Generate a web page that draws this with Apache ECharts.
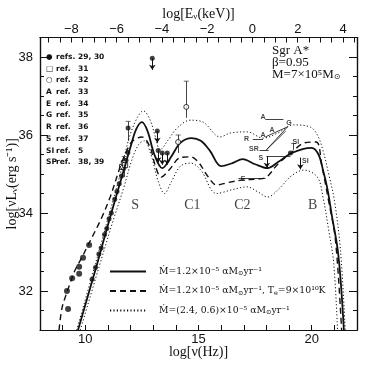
<!DOCTYPE html>
<html><head><meta charset="utf-8">
<script src="https://cdn.jsdelivr.net/npm/echarts@6/dist/echarts.min.js"></script>
<style>html,body{margin:0;padding:0;background:#fff}#c{width:384px;height:365px}</style>
</head><body><div id="c"></div>
<script>
// ---- axes ----
const xMin = 8, xMax = 22, yMin = 31, yMax = 38.5;
const keVOffset = 17.383; // log nu(Hz) - log E(keV)
const bottomTickLabels = [10, 15, 20];
const leftTickLabels = [32, 34, 36, 38];
const topTickLabels = [-8, -6, -4, -2, 0, 2, 4];

// ---- model curves: log nu, log nuL_nu ----
const solidNu = [9.68,10.5,11.1,11.6,12.0,12.25,12.5,12.75,13.05,13.4,13.8,14.2,14.7,15.1,15.5,16.0,16.5,16.95,17.5,18.05,18.5,19.05,19.6,20.0,20.3,20.5,20.7,20.9,21.15,21.3,21.42];
const solidL  = [31.0,32.65,33.9,34.9,35.7,36.15,36.33,36.1,35.5,35.15,35.45,35.8,35.92,35.85,35.6,35.2,35.28,35.38,35.25,35.15,35.3,35.52,35.64,35.67,35.5,35.1,34.6,33.9,33.05,32.1,31.0];

const dashNu = [8.84,8.97,9.15,9.33,9.55,9.86,10.08,10.3,10.7,11.1,11.54,11.85,12.1,12.5,12.85,13.1,13.35,13.7,14.2,14.65,15.0,15.4,15.8,16.3,17.0,17.6,18.0,18.5,19.1,19.7,20.2,20.45,20.75,21.05,21.32];
const dashL  = [31.0,31.56,31.9,32.2,32.54,32.87,33.13,33.38,33.85,34.41,35.18,35.62,35.85,35.95,35.7,35.2,34.92,35.1,35.42,35.44,35.3,34.95,34.72,34.78,34.85,34.87,34.92,35.25,35.55,35.8,35.82,35.2,34.3,33.3,31.0];

const dotHiNu = [9.62,10.4,11.0,11.5,11.95,12.3,12.56,12.85,13.1,13.3,13.66,14.06,14.64,15.2,15.96,16.4,17.16,17.85,18.5,19.2,19.95,20.25,20.5,20.75,21.0,21.27,21.48];
const dotHiL  = [31.0,32.6,33.85,34.9,35.95,36.45,36.62,36.4,35.95,35.62,35.87,36.18,36.38,36.33,35.95,36.05,36.08,35.92,36.05,36.26,36.2,36.0,35.6,35.0,34.33,33.05,31.0];

const dotLoNu = [9.78,10.6,11.2,11.7,12.05,12.35,12.6,12.9,13.2,13.5,13.8,14.2,14.65,15.1,15.8,16.5,17.15,17.6,18.05,18.6,19.1,19.65,20.25,20.5,20.75,20.97,21.14];
const dotLoL  = [31.0,32.6,33.75,34.65,35.35,35.75,35.85,35.5,34.85,34.5,34.8,35.2,35.28,35.1,34.5,34.6,34.67,34.55,34.41,34.65,34.95,35.1,34.92,34.4,33.56,32.72,31.0];

// ---- observations ----
const radioNu = [9.19,9.24,9.42,9.73,9.73,9.9,10.17];
const radioL  = [32.0,31.54,32.33,32.44,32.62,32.85,33.18];
const riseNu = [10.3,10.45,10.6,10.7,10.85,10.95,11.05,11.15,11.3,11.4,11.5,11.6,11.7,11.8,11.88];
const riseL  = [32.3,32.6,32.95,33.1,33.45,33.6,33.85,34.0,34.35,34.55,34.75,34.95,35.15,35.35,35.55];
const dotNu = [11.89,12.96,13.18,13.22,13.4,13.62,19.06];
const dotL  = [36.18,37.97,36.1,35.6,35.54,35.54,35.54];
const squareNu = [11.62,11.7,11.76];
const squareL  = [35.18,35.28,35.23];
const circleNu = [14.46,14.1];
const circleL  = [36.72,35.82];
const errNu = [11.89,11.72,14.46,14.1,19.2];
const errLo = [35.85,34.92,36.44,35.54,35.62];
const errHi = [36.35,35.45,37.38,36.0,35.78];
const limNu = [12.96,13.18,13.22,13.4,13.62,18.02,19.5];
const limL  = [37.97,36.1,35.6,35.54,35.54,35.46,35.42];
// x-ray / IR segments
const segStart = [[17.95,36.4],[17.4,35.9],[18.0,35.62],[18.0,35.62],[17.95,35.95],[18.0,35.46],[16.76,34.88],[17.7,35.62]];
const segEnd   = [[18.75,36.4],[17.85,35.9],[18.95,36.22],[18.85,36.1],[18.9,36.2],[19.06,35.46],[17.96,34.88],[18.1,35.62]];
const tagText = ['A','G','R','A','A','SR','S','SI','SI','E'];
const tagNu   = [17.85,19.0,17.12,17.85,18.25,17.45,17.75,19.3,19.72,16.97];
const tagL    = [36.45,36.3,35.9,36.0,36.12,35.65,35.42,35.82,35.33,34.88];

const regionText = ['S','C1','C2','B'];
const regionNu = [12.2,14.73,16.94,20.04];
const regionL  = [34.2,34.2,34.2,34.2];

const refSym = ['●','□','○','A','E','G','R','S','SI','SP'];
const refWord = ['refs.','ref.','ref.','ref.','ref.','ref.','ref.','ref.','ref.','ref.'];
const refNum = ['29, 30','31','32','33','34','35','36','37','5','38, 39'];

const legSolid = '{t|Ṁ=1.2×10⁻⁵ αM}{s|⊙}{t|yr⁻¹}';
const legDash = '{t|Ṁ=1.2×10⁻⁵ αM}{s|⊙}{t|yr⁻¹, T}{s|e}{t|=9×10¹⁰K}';
const legDot = '{t|Ṁ=(2.4, 0.6)×10⁻⁵ αM}{s|⊙}{t|yr⁻¹}';
const nameSolid = 'solid', nameDash = 'dash', nameDot = 'dot';

const zip = (a, b) => a.map((v, i) => [v, b[i]]);
const K = '#111';
const serif = 'Liberation Serif';
const sans = 'Liberation Sans';

const topMinor = [];
for (let v = -9; v <= 4.5; v += 0.5) topMinor.push(v);

function yAx(pos, labels, major) {
  return {
    type: 'value', position: pos, min: yMin, max: yMax,
    interval: major ? undefined : 0.5,
    axisLine: {show: true, onZero: false, lineStyle: {color: K, width: 1.2}},
    axisTick: major ? {show: true, inside: true, length: 8, customValues: leftTickLabels, lineStyle: {color: K, width: 1}}
                    : {show: true, inside: true, length: 4, lineStyle: {color: K, width: 1}},
    axisLabel: labels ? {show: true, customValues: leftTickLabels, color: K, fontSize: 13, fontFamily: sans, margin: 7} : {show: false},
    splitLine: {show: false},
    name: labels ? '{a|log[νL}{b|ν}{a|(erg s⁻¹)]}' : '',
    nameLocation: 'middle', nameGap: 21, nameRotate: 90, nameMoveOverlap: false,
    nameTextStyle: {rich: {a: {fontFamily: serif, fontSize: 14, color: K}, b: {fontFamily: serif, fontSize: 9, color: K, verticalAlign: 'bottom'}}}
  };
}

const chart = echarts.init(document.getElementById('c'), null, {renderer: 'canvas'});
chart.setOption({
  backgroundColor: '#fff',
  animation: false,
  grid: {left: 40, right: 27, top: 37.5, bottom: 35, containLabel: false, outerBoundsMode: 'none'},
  xAxis: [
    {type: 'value', position: 'bottom', min: xMin, max: xMax, interval: 1,
     axisLine: {show: true, onZero: false, lineStyle: {color: K, width: 1.2}},
     axisTick: {show: true, inside: true, length: 5, lineStyle: {color: K}},
     axisLabel: {customValues: bottomTickLabels, color: K, fontSize: 13, fontFamily: sans, margin: 3},
     splitLine: {show: false},
     name: 'log[ν(Hz)]', nameLocation: 'middle', nameGap: 22, nameMoveOverlap: false,
     nameTextStyle: {fontFamily: serif, fontSize: 14, color: K, verticalAlign: 'middle'}},
    {type: 'value', position: 'top', min: xMin - keVOffset, max: xMax - keVOffset,
     axisLine: {show: true, onZero: false, lineStyle: {color: K, width: 1.2}},
     axisTick: {show: true, inside: true, length: 5, customValues: topMinor, lineStyle: {color: K}},
     axisLabel: {customValues: topTickLabels, color: K, fontSize: 13, fontFamily: sans, margin: 2,
       formatter: v => String(v).replace('-', '−')},
     splitLine: {show: false},
     name: '{a|log[E}{b|ν}{a|(keV)]}', nameLocation: 'middle', nameGap: 23, nameMoveOverlap: false,
     nameTextStyle: {verticalAlign: 'middle', rich: {a: {fontFamily: serif, fontSize: 14, color: K}, b: {fontFamily: serif, fontSize: 9, color: K, verticalAlign: 'bottom'}}}}
  ],
  yAxis: [yAx('left', true, false), yAx('left', false, true), yAx('right', false, false), yAx('right', false, true)],
  legend: {
    left: 104, top: 262, orient: 'vertical', itemWidth: 36, itemHeight: 10, itemGap: 9.5,
    data: [nameSolid, nameDash, nameDot],
    itemStyle: {opacity: 0},
    formatter: n => n === nameSolid ? legSolid : n === nameDash ? legDash : legDot,
    textStyle: {color: K, padding: [0, 0, 0, 8], rich: {
      t: {fontFamily: 'DejaVu Serif', fontSize: 9.3, color: K},
      s: {fontFamily: 'DejaVu Serif', fontSize: 6.5, color: K, verticalAlign: 'bottom', padding: [4, 0, 0, 0]}}}
  },
  graphic: [
    {type: 'text', left: 272, top: 44, style: {text: 'Sgr A*\nβ=0.95\n{t|M=7×10⁵M}{s|⊙}', font: '13px "Liberation Serif"', fill: K, lineHeight: 12,
      rich: {t: {font: '13px "Liberation Serif"', fill: K}, s: {font: '8px "DejaVu Sans"', fill: K, verticalAlign: 'bottom'}}}},
    {type: 'group', left: 46, top: 53, children: refSym.map((s, i) => ({
      type: 'text', x: 0, y: i * 11.7, style: {
        text: '{a|' + s + '}{b|' + refWord[i] + '}{c|' + refNum[i] + '}',
        rich: {a: {width: 10, font: 'bold 7.5px "DejaVu Sans"', fill: K},
               b: {width: 22, font: 'bold 7.5px "DejaVu Sans"', fill: K},
               c: {font: 'bold 7.5px "DejaVu Sans"', fill: K}}}}))}
  ],
  series: [
    {name: nameSolid, type: 'line', data: zip(solidNu, solidL), smooth: 0.35, symbol: 'none', clip: true,
     lineStyle: {color: K, width: 1.8}, itemStyle: {color: K}},
    {name: nameDash, type: 'line', data: zip(dashNu, dashL), smooth: 0.35, symbol: 'none', clip: true,
     lineStyle: {color: K, width: 1.4, type: [6, 4]}, itemStyle: {color: K}},
    {name: nameDot, type: 'line', data: zip(dotHiNu, dotHiL), smooth: 0.35, symbol: 'none', clip: true,
     lineStyle: {color: K, width: 1, type: [1.2, 2.2]}, itemStyle: {color: K}},
    {name: nameDot, type: 'line', data: zip(dotLoNu, dotLoL), smooth: 0.35, symbol: 'none', clip: true,
     lineStyle: {color: K, width: 1, type: [1.2, 2.2]}, itemStyle: {color: K}},
    {type: 'scatter', data: zip(radioNu, radioL), symbol: 'circle', symbolSize: 6, itemStyle: {color: K}},
    {type: 'scatter', data: zip(riseNu, riseL), symbol: 'circle', symbolSize: 5, itemStyle: {color: K}},
    {type: 'scatter', data: zip(dotNu, dotL), symbol: 'circle', symbolSize: 5, itemStyle: {color: K}},
    {type: 'scatter', data: zip(squareNu, squareL), symbol: 'rect', symbolSize: 5, itemStyle: {color: '#fff', borderColor: K, borderWidth: 1}},
    {type: 'scatter', data: zip(circleNu, circleL), symbol: 'circle', symbolSize: 5, itemStyle: {color: '#fff', borderColor: K, borderWidth: 1}, z: 5},
    {type: 'lines', coordinateSystem: 'cartesian2d', symbol: ['none', 'none'],
     lineStyle: {color: '#444', width: 1, opacity: 1},
     data: errNu.map((n, i) => ({coords: [[n, errLo[i]], [n, errHi[i]]]}))},
    {type: 'scatter', data: errNu.map((n, i) => [n, errHi[i]]), symbol: 'rect', symbolSize: [5, 1], itemStyle: {color: '#444'}},
    {type: 'lines', coordinateSystem: 'cartesian2d', symbol: ['none', 'arrow'], symbolSize: 5,
     lineStyle: {color: K, width: 1, opacity: 1},
     data: limNu.map((n, i) => ({coords: [[n, limL[i]], [n, limL[i] - 0.3]]}))},
    {type: 'lines', coordinateSystem: 'cartesian2d', symbol: ['none', 'none'],
     lineStyle: {color: K, width: 0.8, opacity: 1},
     data: segStart.map((s, i) => ({coords: [s, segEnd[i]]}))},
    {type: 'scatter', symbolSize: 0, silent: true,
     data: tagNu.map((n, i) => ({value: [n, tagL[i]], name: tagText[i]})),
     label: {show: true, position: 'inside', formatter: p => p.name, fontSize: 7, fontWeight: 'bold', fontFamily: sans, color: K}},
    {type: 'scatter', symbolSize: 0, silent: true,
     data: regionNu.map((n, i) => ({value: [n, regionL[i]], name: regionText[i]})),
     label: {show: true, position: 'inside', formatter: p => p.name, fontSize: 14, fontFamily: serif, color: K}}
  ]
});
</script></body></html>
